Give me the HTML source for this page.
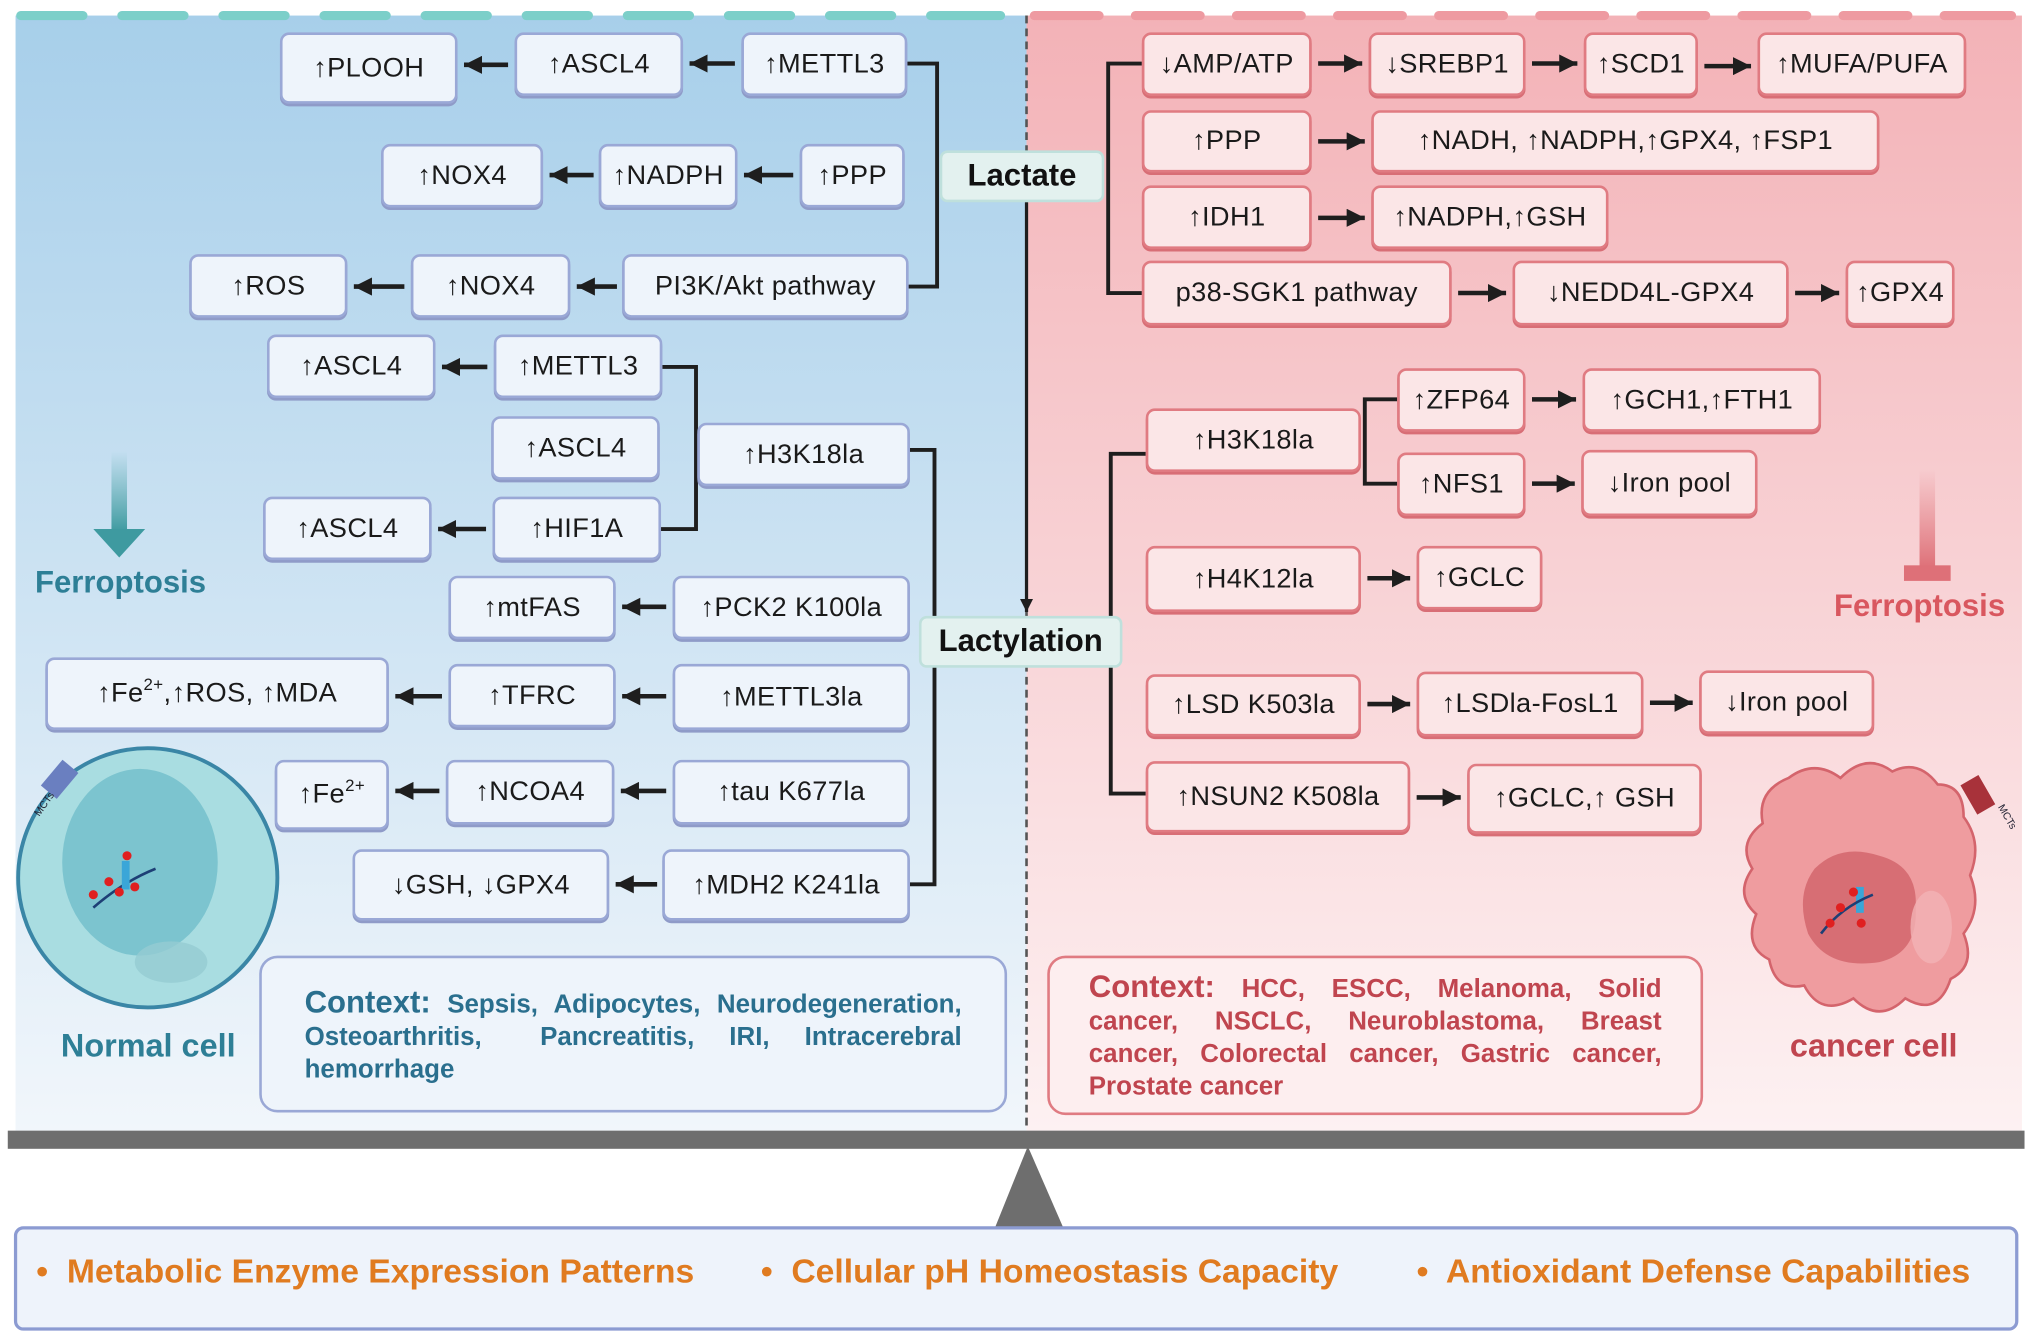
<!DOCTYPE html>
<html><head><meta charset="utf-8"><style>
html,body{margin:0;padding:0;width:2031px;height:1342px;overflow:hidden;background:#fff}
#w{position:absolute;left:0;top:0;width:1567px;height:1035px;transform-origin:0 0;transform:scale(1.29611,1.29662);font-family:"Liberation Sans","DejaVu Sans",sans-serif}
.b{position:absolute;box-sizing:border-box;display:flex;align-items:center;justify-content:center;border-radius:7px;font-size:21px;color:#1a1a1a;white-space:nowrap;letter-spacing:0.3px}
.l{background:#eef4fb;border:2.5px solid #9aa8d6;box-shadow:0 2px 0 #8f9bc8}
.r{background:#fbe6e7;border:2.5px solid #e07b82;box-shadow:0 2px 0 #d86e76}
.k{position:absolute;box-sizing:border-box;display:flex;align-items:center;justify-content:center;border-radius:6px;font-size:24px;font-weight:bold;background:#e3f1ef;border:2.5px solid #bfe0dc;color:#111}
.t{position:absolute;font-weight:bold}
.s{font-size:13px;position:relative;top:-8px}
</style></head><body><div id="w">
<svg width="1567" height="1035" style="position:absolute;left:0;top:0">
<defs>
<linearGradient id="gl" x1="0" y1="0" x2="0" y2="1"><stop offset="0" stop-color="#a7cfea"/><stop offset="1" stop-color="#f1f6fb"/></linearGradient>
<linearGradient id="gr" x1="0" y1="0" x2="0" y2="1"><stop offset="0" stop-color="#f3b2b7"/><stop offset="1" stop-color="#fdf1f2"/></linearGradient>
<linearGradient id="ga" x1="0" y1="0" x2="0" y2="1"><stop offset="0" stop-color="#4aa3a8" stop-opacity="0"/><stop offset="1" stop-color="#3e9aa0"/></linearGradient>
<linearGradient id="gt" x1="0" y1="0" x2="0" y2="1"><stop offset="0" stop-color="#e0767c" stop-opacity="0"/><stop offset="1" stop-color="#de7078"/></linearGradient>
<marker id="a" markerWidth="4" markerHeight="4" refX="4" refY="2" orient="auto" markerUnits="strokeWidth"><path d="M0,0 L4,2 L0,4z" fill="#1e1e1e"/></marker>
</defs>
<rect x="12" y="12" width="780" height="860" fill="url(#gl)"/>
<rect x="792" y="12" width="768" height="860" fill="url(#gr)"/>
<g stroke="#7ccfc9" stroke-width="7" stroke-linecap="round">
<line x1="16" y1="12" x2="64" y2="12"/><line x1="94" y1="12" x2="142" y2="12"/><line x1="172" y1="12" x2="220" y2="12"/><line x1="250" y1="12" x2="298" y2="12"/><line x1="328" y1="12" x2="376" y2="12"/><line x1="406" y1="12" x2="454" y2="12"/><line x1="484" y1="12" x2="532" y2="12"/><line x1="562" y1="12" x2="610" y2="12"/><line x1="640" y1="12" x2="688" y2="12"/><line x1="718" y1="12" x2="772" y2="12"/></g>
<g stroke="#ee9aa1" stroke-width="7" stroke-linecap="round">
<line x1="798" y1="12" x2="848" y2="12"/><line x1="876" y1="12" x2="926" y2="12"/><line x1="954" y1="12" x2="1004" y2="12"/><line x1="1032" y1="12" x2="1082" y2="12"/><line x1="1110" y1="12" x2="1160" y2="12"/><line x1="1188" y1="12" x2="1238" y2="12"/><line x1="1266" y1="12" x2="1316" y2="12"/><line x1="1344" y1="12" x2="1394" y2="12"/><line x1="1422" y1="12" x2="1472" y2="12"/><line x1="1500" y1="12" x2="1552" y2="12"/></g>
<line x1="792" y1="12" x2="792" y2="872" stroke="#555" stroke-width="2" stroke-dasharray="6,4"/>
<rect x="6" y="872" width="1556" height="14" fill="#6e6e6e"/>
<polygon points="793,884 768,946 820,946" fill="#6e6e6e"/>
<rect x="12" y="947" width="1544" height="78" rx="6" fill="#eef3fb" stroke="#8c9bd2" stroke-width="2.5"/>
<g stroke="#1e1e1e" stroke-width="3" fill="none">
<polyline points="700,49 723,49 723,221 701,221"/>
<line x1="792" y1="156" x2="792" y2="472" stroke-width="2.5" marker-end="url(#a)"/>
<polyline points="511,283 537,283 537,408 510,408"/>
<polyline points="702,347 721,347 721,682 702,682"/>
<polyline points="881,49 855,49 855,226 881,226"/>
<polyline points="884,350 857,350 857,612 884,612"/>
<polyline points="1078,308 1053,308 1053,373 1078,373"/>
</g>
<g stroke="#1e1e1e" stroke-width="3.5" marker-end="url(#a)">
<line x1="392" y1="50" x2="358" y2="50"/><line x1="567" y1="49" x2="532" y2="49"/>
<line x1="458" y1="135" x2="424" y2="135"/><line x1="612" y1="135" x2="574" y2="135"/>
<line x1="312" y1="221" x2="273" y2="221"/><line x1="476" y1="221" x2="445" y2="221"/>
<line x1="376" y1="283" x2="341" y2="283"/>
<line x1="375" y1="408" x2="338" y2="408"/>
<line x1="514" y1="468" x2="480" y2="468"/>
<line x1="341" y1="537" x2="305" y2="537"/><line x1="514" y1="537" x2="480" y2="537"/>
<line x1="339" y1="610" x2="305" y2="610"/><line x1="514" y1="610" x2="479" y2="610"/>
<line x1="507" y1="682" x2="475" y2="682"/>
<line x1="1017" y1="49" x2="1051" y2="49"/><line x1="1182" y1="49" x2="1217" y2="49"/><line x1="1315" y1="51" x2="1351" y2="51"/>
<line x1="1017" y1="109" x2="1053" y2="109"/><line x1="1017" y1="168" x2="1053" y2="168"/>
<line x1="1125" y1="226" x2="1162" y2="226"/><line x1="1385" y1="226" x2="1419" y2="226"/>
<line x1="1182" y1="308" x2="1216" y2="308"/><line x1="1182" y1="373" x2="1215" y2="373"/>
<line x1="1055" y1="446" x2="1088" y2="446"/>
<line x1="1055" y1="543" x2="1088" y2="543"/><line x1="1273" y1="542" x2="1306" y2="542"/>
<line x1="1093" y1="615" x2="1127" y2="615"/>
</g>
<rect x="86" y="348" width="12" height="62" fill="url(#ga)"/>
<polygon points="72,408 112,408 92,430" fill="#3e9aa0"/>
<rect x="1481" y="362" width="12" height="76" fill="url(#gt)"/>
<rect x="1469" y="436" width="36" height="12" fill="#de7078"/>
<circle cx="114" cy="677" r="100" fill="#a9dde1" stroke="#3a86a6" stroke-width="3"/>
<ellipse cx="108" cy="665" rx="60" ry="72" fill="#7cc4cf"/>
<ellipse cx="132" cy="742" rx="28" ry="16" fill="#95ccd2" opacity="0.8"/>
<rect x="38" y="588" width="16" height="26" fill="#6a7fc0" transform="rotate(40 46 601)"/>
<path d="M72 700 Q95 680 120 670" stroke="#1d3f75" stroke-width="2" fill="none"/>
<rect x="94" y="664" width="6" height="22" fill="#3aa6d8"/>
<circle cx="84" cy="680" r="3.5" fill="#e02020"/><circle cx="98" cy="660" r="3.5" fill="#e02020"/><circle cx="72" cy="690" r="3.5" fill="#e02020"/><circle cx="92" cy="688" r="3.5" fill="#e02020"/><circle cx="104" cy="684" r="3.5" fill="#e02020"/>
<path d="M1380 600 Q1400 585 1420 600 Q1440 580 1460 595 Q1480 585 1495 605 Q1515 605 1515 630 Q1530 650 1520 675 Q1530 700 1515 720 Q1525 745 1505 755 Q1495 785 1470 770 Q1450 790 1430 770 Q1405 785 1392 760 Q1370 765 1365 740 Q1345 730 1355 705 Q1338 690 1352 670 Q1340 650 1360 635 Q1355 610 1380 600Z" fill="#ef9c9f" stroke="#d4646c" stroke-width="2"/>
<path d="M1400 670 Q1420 650 1450 660 Q1480 668 1478 700 Q1480 735 1450 742 Q1410 748 1395 720 Q1385 690 1400 670Z" fill="#d76e74"/>
<ellipse cx="1490" cy="715" rx="16" ry="28" fill="#f2b3b5" opacity="0.8"/>
<rect x="1518" y="600" width="16" height="26" fill="#a8323a" transform="rotate(-30 1526 613)"/>
<rect x="1432" y="684" width="6" height="20" fill="#3aa6d8"/>
<path d="M1405 720 Q1420 700 1445 690" stroke="#1d3f75" stroke-width="2" fill="none"/>
<circle cx="1420" cy="700" r="3.5" fill="#e02020"/><circle cx="1430" cy="688" r="3.5" fill="#e02020"/><circle cx="1412" cy="712" r="3.5" fill="#e02020"/><circle cx="1436" cy="712" r="3.5" fill="#e02020"/>
<text x="22" y="626" font-size="8" fill="#223" transform="rotate(-55 30 620)" font-family="Liberation Sans">MCTs</text>
<text x="1534" y="625" font-size="8" fill="#223" transform="rotate(60 1540 630)" font-family="Liberation Sans">MCTs</text>
</svg>

<div class="b l" style="left:216px;top:25px;width:137px;height:55px">↑PLOOH</div>
<div class="b l" style="left:397px;top:25px;width:130px;height:49px">↑ASCL4</div>
<div class="b l" style="left:572px;top:25px;width:128px;height:49px">↑METTL3</div>
<div class="b l" style="left:294px;top:111px;width:125px;height:49px">↑NOX4</div>
<div class="b l" style="left:462px;top:111px;width:107px;height:49px">↑NADPH</div>
<div class="b l" style="left:617px;top:111px;width:81px;height:49px">↑PPP</div>
<div class="b l" style="left:146px;top:196px;width:122px;height:49px">↑ROS</div>
<div class="b l" style="left:317px;top:196px;width:123px;height:49px">↑NOX4</div>
<div class="b l" style="left:480px;top:196px;width:221px;height:49px">PI3K/Akt pathway</div>
<div class="b l" style="left:206px;top:258px;width:130px;height:49px">↑ASCL4</div>
<div class="b l" style="left:381px;top:258px;width:130px;height:49px">↑METTL3</div>
<div class="b l" style="left:379px;top:321px;width:130px;height:49px">↑ASCL4</div>
<div class="b l" style="left:538px;top:326px;width:164px;height:49px">↑H3K18la</div>
<div class="b l" style="left:203px;top:383px;width:130px;height:49px">↑ASCL4</div>
<div class="b l" style="left:380px;top:383px;width:130px;height:49px">↑HIF1A</div>
<div class="b l" style="left:346px;top:444px;width:129px;height:49px">↑mtFAS</div>
<div class="b l" style="left:519px;top:444px;width:183px;height:49px">↑PCK2 K100la</div>
<div class="b l" style="left:35px;top:507px;width:265px;height:56px">↑Fe<span class="s">2+</span>,↑ROS, ↑MDA</div>
<div class="b l" style="left:346px;top:512px;width:129px;height:49px">↑TFRC</div>
<div class="b l" style="left:519px;top:512px;width:183px;height:51px">↑METTL3la</div>
<div class="b l" style="left:212px;top:586px;width:88px;height:54px">↑Fe<span class="s">2+</span></div>
<div class="b l" style="left:344px;top:586px;width:130px;height:50px">↑NCOA4</div>
<div class="b l" style="left:519px;top:586px;width:183px;height:50px">↑tau K677la</div>
<div class="b l" style="left:272px;top:655px;width:198px;height:55px">↓GSH, ↓GPX4</div>
<div class="b l" style="left:511px;top:655px;width:191px;height:55px">↑MDH2 K241la</div>

<div class="k" style="left:725px;top:116px;width:127px;height:40px">Lactate</div>
<div class="k" style="left:709px;top:475px;width:157px;height:40px">Lactylation</div>

<div class="b r" style="left:881px;top:25px;width:131px;height:49px">↓AMP/ATP</div>
<div class="b r" style="left:1056px;top:25px;width:121px;height:49px">↓SREBP1</div>
<div class="b r" style="left:1222px;top:25px;width:88px;height:49px">↑SCD1</div>
<div class="b r" style="left:1356px;top:25px;width:161px;height:49px">↑MUFA/PUFA</div>
<div class="b r" style="left:881px;top:85px;width:131px;height:48px">↑PPP</div>
<div class="b r" style="left:1058px;top:85px;width:392px;height:48px">↑NADH, ↑NADPH,↑GPX4, ↑FSP1</div>
<div class="b r" style="left:881px;top:143px;width:131px;height:49px">↑IDH1</div>
<div class="b r" style="left:1058px;top:143px;width:183px;height:49px">↑NADPH,↑GSH</div>
<div class="b r" style="left:881px;top:201px;width:239px;height:50px">p38-SGK1 pathway</div>
<div class="b r" style="left:1167px;top:201px;width:213px;height:50px">↓NEDD4L-GPX4</div>
<div class="b r" style="left:1424px;top:201px;width:84px;height:50px">↑GPX4</div>
<div class="b r" style="left:884px;top:315px;width:166px;height:49px">↑H3K18la</div>
<div class="b r" style="left:1078px;top:284px;width:99px;height:49px">↑ZFP64</div>
<div class="b r" style="left:1221px;top:284px;width:184px;height:49px">↑GCH1,↑FTH1</div>
<div class="b r" style="left:1078px;top:349px;width:99px;height:49px">↑NFS1</div>
<div class="b r" style="left:1220px;top:347px;width:136px;height:51px">↓Iron pool</div>
<div class="b r" style="left:884px;top:421px;width:166px;height:51px">↑H4K12la</div>
<div class="b r" style="left:1093px;top:421px;width:97px;height:49px">↑GCLC</div>
<div class="b r" style="left:884px;top:520px;width:166px;height:48px">↑LSD K503la</div>
<div class="b r" style="left:1093px;top:518px;width:175px;height:50px">↑LSDla-FosL1</div>
<div class="b r" style="left:1311px;top:517px;width:135px;height:49px">↓Iron pool</div>
<div class="b r" style="left:884px;top:587px;width:204px;height:55px">↑NSUN2 K508la</div>
<div class="b r" style="left:1132px;top:589px;width:181px;height:54px">↑GCLC,↑ GSH</div>

<div style="position:absolute;left:200px;top:737px;width:577px;height:121px;box-sizing:border-box;border:2.5px solid #9aa8d6;border-radius:14px;background:#eef4fb;padding:22px 33px 0 33px;color:#2a6f8e;font-weight:bold;font-size:20px;line-height:25px;text-align:justify;text-align-last:left"><span style="font-size:24px">Context:</span> Sepsis, Adipocytes, Neurodegeneration, Osteoarthritis, &nbsp; &nbsp; Pancreatitis, &nbsp; IRI, &nbsp; Intracerebral hemorrhage</div>
<div style="position:absolute;left:808px;top:737px;width:506px;height:123px;box-sizing:border-box;border:2.5px solid #e07b82;border-radius:14px;background:#fdeeef;padding:10px 30px 0 30px;color:#c0454f;font-weight:bold;font-size:20px;line-height:25px;text-align:justify;text-align-last:left"><span style="font-size:24px">Context:</span> HCC, ESCC, Melanoma, Solid cancer, NSCLC, Neuroblastoma, Breast cancer, Colorectal cancer, Gastric cancer, Prostate cancer</div>

<div class="t" style="left:27px;top:436px;font-size:24px;color:#2e7f96">Ferroptosis</div>
<div class="t" style="left:1415px;top:454px;font-size:24px;color:#d9575f">Ferroptosis</div>
<div class="t" style="left:47px;top:793px;font-size:25px;color:#2e7f96">Normal cell</div>
<div class="t" style="left:1381px;top:793px;font-size:25px;color:#c0454f">cancer cell</div>

<div class="t" style="left:28px;top:965px;font-size:26px;color:#e07b20;white-space:nowrap">•&nbsp; Metabolic Enzyme Expression Patterns</div>
<div class="t" style="left:587px;top:965px;font-size:26px;color:#e07b20;white-space:nowrap">•&nbsp; Cellular pH Homeostasis Capacity</div>
<div class="t" style="left:1093px;top:965px;font-size:26px;color:#e07b20;white-space:nowrap">•&nbsp; Antioxidant Defense Capabilities</div>
</div></body></html>
